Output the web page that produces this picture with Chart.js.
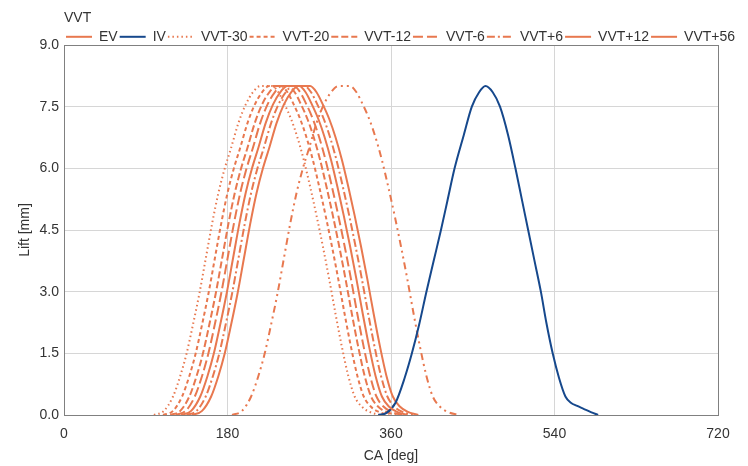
<!DOCTYPE html>
<html>
<head>
<meta charset="utf-8">
<script src="https://cdn.jsdelivr.net/npm/chart.js@4/dist/chart.umd.min.js"></script>
<style>
  html, body { margin: 0; padding: 0; background: #ffffff; }
  #wrap { width: 748px; height: 466px; position: relative; }
</style>
</head>
<body>
<div id="wrap"><canvas id="c"></canvas></div>
<script>
// ---- data ----
// exhaust valve (EV) baseline lift profile: crank angle [deg] and lift [mm]
const evCA   = [129, 140, 150, 158, 165, 172, 179, 186, 193, 200, 207, 214, 222, 230, 238, 246, 259, 266, 273, 280, 287, 294, 301, 308, 315, 322, 329, 336, 343, 350, 358, 366, 378];
const evLift = [0, 0.1, 0.45, 0.95, 1.5, 2.2, 2.95, 3.8, 4.65, 5.4, 6.0, 6.5, 7.1, 7.55, 7.85, 8.0, 8.0, 7.85, 7.55, 7.2, 6.75, 6.2, 5.55, 4.85, 4.1, 3.3, 2.45, 1.65, 0.95, 0.45, 0.2, 0.08, 0];
// intake valve (IV) lift profile
const ivCA   = [346, 355, 365, 375, 383, 391, 399, 407, 415, 422, 430, 440, 449, 457, 464, 472, 480, 489, 497, 504, 511, 518, 525, 531, 538, 545, 552, 558, 565, 572, 580, 588];
const ivLift = [0, 0.05, 0.3, 0.9, 1.5, 2.2, 3.0, 3.75, 4.5, 5.2, 6.0, 6.8, 7.5, 7.85, 8.0, 7.85, 7.5, 6.8, 6.0, 5.25, 4.5, 3.75, 3.0, 2.25, 1.5, 0.9, 0.45, 0.3, 0.22, 0.15, 0.07, 0];
// VVT cam phasing variants (shift of the EV profile, deg CA)
const vvtNames  = ['VVT-30', 'VVT-20', 'VVT-12', 'VVT-6', 'VVT+6', 'VVT+12', 'VVT+56'];
const vvtShifts = [-30, -20, -12, -6, 6, 12, 56];
// axis ticks
const xTicks = [0, 180, 360, 540, 720];
const yTicks = [0, 1.5, 3.0, 4.5, 6.0, 7.5, 9.0];

// ---- styles ----
const ORANGE = '#E8784F';
const BLUE = '#16488C';
const vvtDash    = [[1.5, 3], [4, 3], [7, 3], [10, 4], [8, 3, 2, 3], [], [7, 4, 2, 4, 2, 4]];
const vvtLegDash = [[1.5, 3], [4, 3], [7, 3], [10, 4], [8, 3, 2, 3], [], []];

function pts(ca, lift, shift) {
  return ca.map((c, i) => ({ x: c + shift, y: lift[i] }));
}

const datasets = [
  { label: 'EV', data: pts(evCA, evLift, 0), borderColor: ORANGE, backgroundColor: ORANGE, borderWidth: 2, borderDash: [], legDash: [] },
  { label: 'IV', data: pts(ivCA, ivLift, 0), borderColor: BLUE, backgroundColor: BLUE, borderWidth: 2, borderDash: [], legDash: [] }
];
vvtNames.forEach((n, k) => {
  datasets.push({ label: n, data: pts(evCA, evLift, vvtShifts[k]), borderColor: ORANGE, backgroundColor: ORANGE,
    borderWidth: 2, borderDash: vvtDash[k], legDash: vvtLegDash[k] });
});
datasets.forEach(d => { d.pointRadius = 0; d.cubicInterpolationMode = 'monotone'; d.fill = false; });

const FONT = "'Liberation Sans', Arial, sans-serif";
const TXT = '#333333';

const framePlugin = {
  id: 'frame',
  beforeDraw(chart) {
    // let the legend row run past the plot's right edge, as in the reference
    const lg = chart.legend;
    if (lg) {
      lg.right = chart.width - 2;
      lg.maxWidth = lg.right - lg.left;
      lg.fit();
    }
  },
  afterDraw(chart) {
    const a = chart.chartArea, ctx = chart.ctx;
    ctx.save();
    ctx.strokeStyle = '#808080';
    ctx.lineWidth = 1;
    ctx.strokeRect(Math.round(a.left) + 0.5, Math.round(a.top) + 0.5, Math.round(a.right - a.left), Math.round(a.bottom - a.top));
    ctx.restore();
  }
};

new Chart(document.getElementById('c'), {
  type: 'line',
  data: { datasets },
  plugins: [framePlugin],
  options: {
    responsive: true,
    maintainAspectRatio: false,
    animation: false,
    layout: { padding: { left: 0, right: 30, top: 11, bottom: 0 } },
    plugins: {
      tooltip: { enabled: false },
      title: { display: false },
      legend: {
        display: true,
        position: 'top',
        align: 'start',
        fullSize: false,
        maxHeight: 34,
        title: { display: true, text: 'VVT', position: 'start', color: TXT,
                 font: { family: FONT, size: 14 }, padding: { top: 0, bottom: 0 } },
        labels: {
          usePointStyle: true,
          pointStyle: 'line',
          pointStyleWidth: 26,
          padding: 2,
          color: TXT,
          font: { family: FONT, size: 14 },
          generateLabels(chart) {
            const items = Chart.defaults.plugins.legend.labels.generateLabels(chart);
            items.forEach(it => {
              const ds = chart.data.datasets[it.datasetIndex];
              it.lineDash = ds.legDash;
              it.pointStyle = 'line';
              it.lineWidth = 2;
            });
            return items;
          }
        }
      }
    },
    scales: {
      x: {
        type: 'linear',
        min: 0, max: 720,
        afterBuildTicks(s) { s.ticks = xTicks.map(v => ({ value: v })); },
        afterFit(s) { s.height = 51; },
        ticks: { color: TXT, font: { family: FONT, size: 14 }, padding: 11, maxRotation: 0 },
        grid: { color: '#d6d6d6', drawTicks: false },
        border: { color: '#808080' },
        title: { display: true, text: 'CA [deg]', color: TXT, font: { family: FONT, size: 14 }, padding: { top: 0, bottom: 1 } }
      },
      y: {
        type: 'linear',
        min: 0, max: 9,
        afterBuildTicks(s) { s.ticks = yTicks.map(v => ({ value: v })); },
        afterFit(s) { s.width = 64; },
        ticks: { color: TXT, font: { family: FONT, size: 14 }, padding: 5, callback: v => Number(v).toFixed(1) },
        grid: { color: '#d6d6d6', drawTicks: false },
        border: { color: '#808080' },
        title: { display: true, text: 'Lift [mm]', color: TXT, font: { family: FONT, size: 14 }, padding: { top: 17, bottom: 0 } }
      }
    }
  }
});
</script>
</body>
</html>
